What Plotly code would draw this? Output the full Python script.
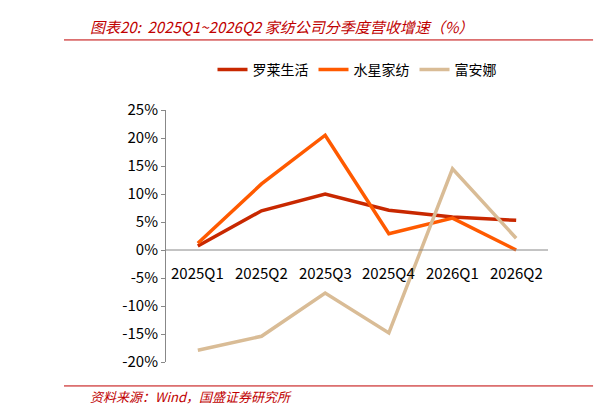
import plotly.graph_objects as go

categories = ["2025Q1", "2025Q2", "2025Q3", "2025Q4", "2026Q1", "2026Q2"]
luolai = [0.7, 7.0, 10.0, 7.1, 5.9, 5.3]
shuixing = [1.2, 11.8, 20.5, 2.9, 5.7, 0.0]
fuanna = [-17.9, -15.4, -7.7, -14.8, 14.5, 2.1]
yticks = [25, 20, 15, 10, 5, 0, -5, -10, -15, -20]

fig = go.Figure()
for name, vals, col in [("罗莱生活", luolai, "#C82800"), ("水星家纺", shuixing, "#FF5A00"), ("富安娜", fuanna, "#D9BC96")]:
    fig.add_trace(go.Scatter(x=list(range(len(categories))), y=vals, name=name, mode="lines",
                             line=dict(color=col, width=3.5)))

font = "Noto Sans CJK SC"
fig.update_layout(
    width=612, height=409, margin=dict(l=158, r=72, t=102, b=55),
    paper_bgcolor="white", plot_bgcolor="white", showlegend=True,
    font=dict(family=font, size=15, color="black"),
    legend=dict(orientation="h", x=0.5, xanchor="center", y=1.159, yanchor="middle", font=dict(size=14)),
    xaxis=dict(range=[-0.5, 5.5], tickvals=[], showline=False, zeroline=False, showgrid=False),
    yaxis=dict(range=[-20, 25], tickvals=yticks, ticktext=[f"{v}%" for v in yticks],
               showline=True, linecolor="#888", ticks="outside", ticklen=4, tickcolor="#888",
               showgrid=False, zeroline=False),
    shapes=[
        dict(type="line", xref="x", yref="y", x0=-0.5, x1=5.5, y0=0, y1=0, line=dict(color="#888", width=1)),
        dict(type="line", xref="paper", yref="paper", x0=-0.267, x1=1.118, y0=1.278, y1=1.278, line=dict(color="#C00000", width=1)),
        dict(type="line", xref="paper", yref="paper", x0=-0.267, x1=1.118, y0=-0.095, y1=-0.095, line=dict(color="#C00000", width=1)),
    ],
)
ann = [dict(text="<i>图表20:  2025Q1~2026Q2 家纺公司分季度营收增速（%）</i>", xref="paper", yref="paper",
            x=-0.204, y=1.333, xanchor="left", yanchor="middle", showarrow=False,
            font=dict(size=15, color="#C00000", family=font)),
       dict(text="<i>资料来源：Wind，国盛证券研究所</i>", xref="paper", yref="paper", x=-0.204, y=-0.135,
            xanchor="left", yanchor="middle", showarrow=False, font=dict(size=13, color="#C00000", family=font))]
for i, c in enumerate(categories):
    ann.append(dict(text=c, x=i, y=0, xref="x", yref="y", yshift=-22, showarrow=False, font=dict(size=15)))
fig.update_layout(annotations=ann)
fig.write_html("out.html")
